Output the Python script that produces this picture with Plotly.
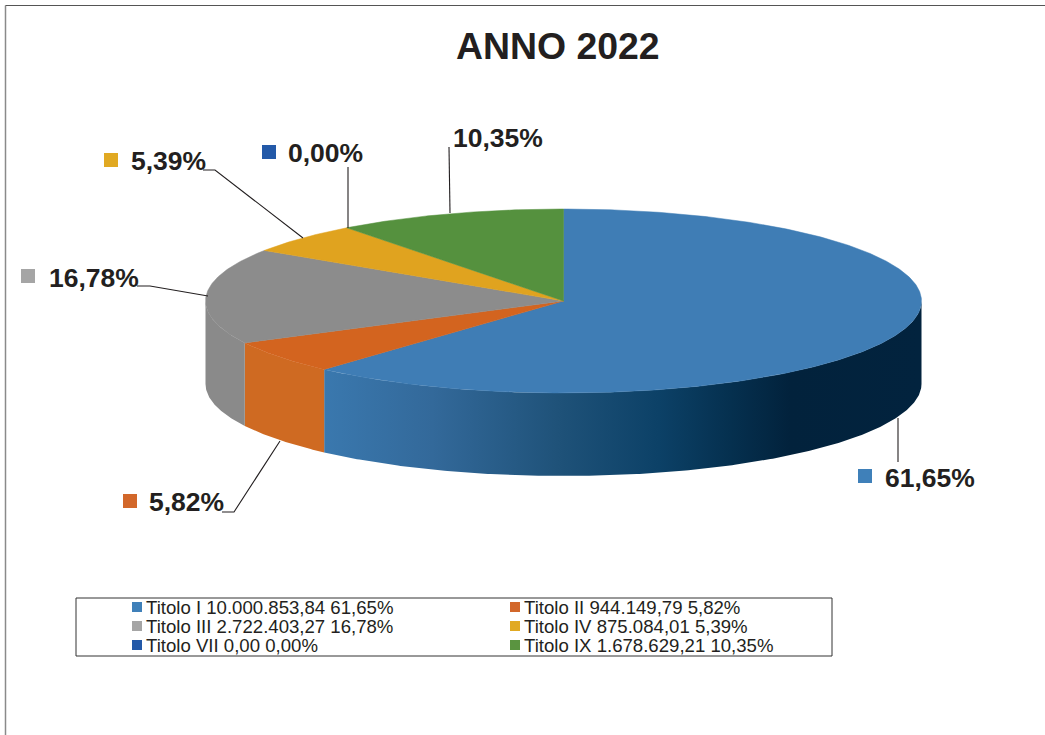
import numpy as np
import plotly.graph_objects as go

categories = ["Titolo I", "Titolo II", "Titolo III", "Titolo IV", "Titolo VII", "Titolo IX"]
amounts = [10000853.84, 944149.79, 2722403.27, 875084.01, 0.00, 1678629.21]
amount_labels = ["10.000.853,84", "944.149,79", "2.722.403,27", "875.084,01", "0,00", "1.678.629,21"]
percent_labels = ["61,65%", "5,82%", "16,78%", "5,39%", "0,00%", "10,35%"]
top_colors = ["#3f7db5", "#d3641f", "#8c8c8c", "#e0a31f", "#2359a8", "#55913e"]
key_colors = ["#3f80b9", "#d2672a", "#a5a5a5", "#e1a922", "#2359a8", "#5a9440"]
side_colors = ["#3a78ae", "#cf6a22", "#8a8a8a", "#e0a31f", "#2359a8", "#55913e"]

CX, CY, RX, RY, DEPTH = 563.5, 301, 358, 92, 83
INK = "#231f20"
FONT = "Liberation Sans, Arial, sans-serif"

total = sum(amounts)
fractions = [a / total for a in amounts]
edges = np.concatenate([[0], np.cumsum(fractions)]) * 2 * np.pi


def arc(a0, a1, dy=0.0):
    n = max(2, int(abs(a1 - a0) * 120))
    t = np.linspace(a0, a1, n)
    return CX + RX * np.sin(t), CY - RY * np.cos(t) + dy


fig = go.Figure()

# side wall: only the front half of the rim (pi/2 .. 3pi/2) is visible
for i in range(len(categories)):
    a0 = max(edges[i], np.pi / 2)
    a1 = min(edges[i + 1], 3 * np.pi / 2)
    if a1 <= a0:
        continue
    xt, yt = arc(a0, a1)
    xb, yb = arc(a1, a0, DEPTH)
    kw = dict(fillcolor=side_colors[i])
    if i == 0:
        kw = dict(fillgradient=dict(
            type="horizontal", start=325, stop=921,
            colorscale=[[0, "#3a78ae"], [0.18, "#33699a"], [0.39, "#1f5279"],
                        [0.56, "#0c4167"], [0.68, "#05304f"], [0.78, "#02223c"],
                        [1, "#02233e"]]))
    fig.add_trace(go.Scatter(x=np.r_[xt, xb], y=np.r_[yt, yb], mode="lines",
                             fill="toself", line=dict(width=0),
                             hoverinfo="skip", showlegend=False, **kw))

# top face
for i, name in enumerate(categories):
    if fractions[i] == 0:
        continue
    xa, ya = arc(edges[i], edges[i + 1])
    fig.add_trace(go.Scatter(x=np.r_[CX, xa, CX], y=np.r_[CY, ya, CY], mode="lines",
                             fill="toself", fillcolor=top_colors[i],
                             line=dict(width=0.5, color=top_colors[i]),
                             name=name, hoverinfo="name", showlegend=False))

# leader lines
leaders = [
    [(898, 418), (898, 462)],
    [(280, 441), (234, 512), (222, 512)],
    [(208, 296), (150, 286), (137, 286)],
    [(303, 238), (215, 170), (203, 170)],
    [(348, 228), (348, 167)],
    [(450, 213), (449, 147)],
]
for pts in leaders:
    fig.add_trace(go.Scatter(x=[p[0] for p in pts], y=[p[1] for p in pts], mode="lines",
                             line=dict(color=INK, width=1.1),
                             hoverinfo="skip", showlegend=False))

annotations = [dict(x=558, y=46, text="<b>ANNO 2022</b>", showarrow=False, xanchor="center",
                    yanchor="middle", font=dict(family=FONT, size=37.4, color=INK))]

# data labels with key squares
label_text_x = [883, 147, 47, 129, 286, 451]
label_y = [478, 502, 278, 161, 153, 138]
key_x = [865, 130, 28, 111, 269, None]
key_y = [476, 501, 276, 160, 152, None]
for i, t in enumerate(percent_labels):
    annotations.append(dict(x=label_text_x[i], y=label_y[i], text=f"<b>{t}</b>", showarrow=False,
                            xanchor="left", yanchor="middle",
                            font=dict(family=FONT, size=26.5, color=INK)))
    if key_x[i] is not None:
        fig.add_trace(go.Scatter(x=[key_x[i]], y=[key_y[i]], mode="markers",
                                 marker=dict(symbol="square", size=14, color=key_colors[i]),
                                 hoverinfo="skip", showlegend=False))

# legend block
legend_col_x = [137, 515]
legend_row_y = [607, 626, 645]
for i, name in enumerate(categories):
    col, row = i % 2, i // 2
    fig.add_trace(go.Scatter(x=[legend_col_x[col]], y=[legend_row_y[row]], mode="markers",
                             marker=dict(symbol="square", size=10, color=key_colors[i]),
                             hoverinfo="skip", showlegend=False))
    annotations.append(dict(x=legend_col_x[col] + 6.5, y=legend_row_y[row] + 0.5,
                            text=f"{name} {amount_labels[i]} {percent_labels[i]}",
                            showarrow=False, xanchor="left", yanchor="middle",
                            font=dict(family=FONT, size=18.6, color=INK)))

shapes = [
    dict(type="rect", x0=76, y0=598, x1=832, y1=656, line=dict(color="#333333", width=1)),
    dict(type="line", x0=5.5, y0=5.5, x1=5.5, y1=735, line=dict(color="#8a8a8a", width=1.5)),
    dict(type="line", x0=5.5, y0=5.5, x1=1045, y1=5.5, line=dict(color="#555555", width=1)),
]

fig.update_layout(
    width=1045, height=735, margin=dict(l=0, r=0, t=0, b=0),
    paper_bgcolor="white", plot_bgcolor="white", showlegend=False,
    xaxis=dict(range=[0, 1045], visible=False, fixedrange=True),
    yaxis=dict(range=[735, 0], visible=False, fixedrange=True),
    annotations=annotations, shapes=shapes,
)

fig.write_html("out.html", config={"displayModeBar": False},
               post_script="document.body.style.margin='0';document.body.style.overflow='hidden';")
